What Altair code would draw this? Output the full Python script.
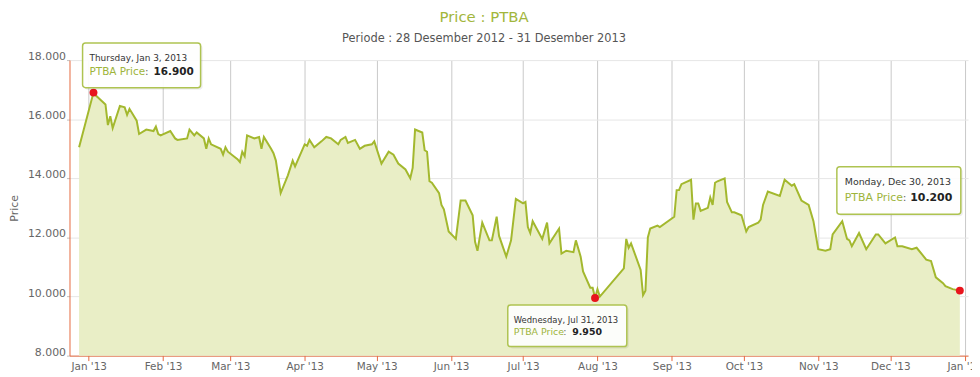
import altair as alt
import pandas as pd

# ---------------- data ----------------
dates = [
    "2012/12/28", "2013/01/03", "2013/01/04", "2013/01/08", "2013/01/09", "2013/01/10", "2013/01/11",
    "2013/01/14", "2013/01/16", "2013/01/17", "2013/01/18", "2013/01/21", "2013/01/22", "2013/01/25",
    "2013/01/28", "2013/01/29", "2013/01/30", "2013/01/31", "2013/02/04", "2013/02/06", "2013/02/07",
    "2013/02/11", "2013/02/12", "2013/02/14", "2013/02/15", "2013/02/18", "2013/02/19", "2013/02/20",
    "2013/02/21", "2013/02/25", "2013/02/26", "2013/02/27", "2013/02/28", "2013/03/04", "2013/03/05",
    "2013/03/06", "2013/03/07", "2013/03/08", "2013/03/11", "2013/03/13", "2013/03/14", "2013/03/15",
    "2013/03/18", "2013/03/19", "2013/03/20", "2013/03/22", "2013/03/25", "2013/03/27", "2013/03/28",
    "2013/04/01", "2013/04/02", "2013/04/03", "2013/04/05", "2013/04/08", "2013/04/10", "2013/04/12",
    "2013/04/15", "2013/04/16", "2013/04/18", "2013/04/19", "2013/04/22", "2013/04/24", "2013/04/26",
    "2013/04/29", "2013/04/30", "2013/05/03", "2013/05/06", "2013/05/08", "2013/05/10", "2013/05/13",
    "2013/05/15", "2013/05/16", "2013/05/17", "2013/05/20", "2013/05/21", "2013/05/22", "2013/05/23",
    "2013/05/24", "2013/05/27", "2013/05/28", "2013/05/29", "2013/05/31", "2013/06/03", "2013/06/05",
    "2013/06/07", "2013/06/10", "2013/06/11", "2013/06/12", "2013/06/14", "2013/06/17", "2013/06/18",
    "2013/06/20", "2013/06/21", "2013/06/24", "2013/06/26", "2013/06/28", "2013/07/01", "2013/07/02",
    "2013/07/03", "2013/07/04", "2013/07/05", "2013/07/09", "2013/07/11", "2013/07/12", "2013/07/16",
    "2013/07/17", "2013/07/19", "2013/07/22", "2013/07/23", "2013/07/25", "2013/07/26", "2013/07/29",
    "2013/07/30", "2013/07/31", "2013/08/01", "2013/08/02", "2013/08/12", "2013/08/13", "2013/08/14",
    "2013/08/15", "2013/08/19", "2013/08/20", "2013/08/21", "2013/08/22", "2013/08/23", "2013/08/26",
    "2013/08/27", "2013/09/02", "2013/09/03", "2013/09/04", "2013/09/05", "2013/09/09", "2013/09/10",
    "2013/09/11", "2013/09/12", "2013/09/13", "2013/09/16", "2013/09/17", "2013/09/18", "2013/09/19",
    "2013/09/20", "2013/09/23", "2013/09/24", "2013/09/26", "2013/09/27", "2013/09/30", "2013/10/02",
    "2013/10/03", "2013/10/07", "2013/10/08", "2013/10/09", "2013/10/11", "2013/10/16", "2013/10/18",
    "2013/10/21", "2013/10/22", "2013/10/25", "2013/10/28", "2013/10/30", "2013/11/01", "2013/11/04",
    "2013/11/06", "2013/11/07", "2013/11/11", "2013/11/13", "2013/11/14", "2013/11/15", "2013/11/18",
    "2013/11/21", "2013/11/25", "2013/11/26", "2013/11/29", "2013/12/03", "2013/12/04", "2013/12/06",
    "2013/12/10", "2013/12/12", "2013/12/16", "2013/12/18", "2013/12/20", "2013/12/23", "2013/12/24",
    "2013/12/27", "2013/12/30",
]
prices = [
    15050, 16900, 16800, 16500, 15800, 16100, 15700,
    16450, 16400, 16150, 16350, 15950, 15500, 15650,
    15600, 15750, 15500, 15450, 15600, 15350, 15300,
    15350, 15650, 15450, 15550, 15350, 15000, 15350,
    15150, 15000, 14800, 15050, 14900, 14650, 14550,
    14900, 14750, 15450, 15350, 15400, 15000, 15400,
    15000, 14850, 14600, 13500, 14100, 14600, 14400,
    15150, 15100, 15300, 15050, 15250, 15400, 15350,
    15150, 15300, 15400, 15200, 15300, 15000, 15100,
    15150, 15250, 14500, 14900, 14800, 14500, 14300,
    14000, 14350, 15650, 15550, 14950, 14900, 13900,
    13850, 13500, 13100, 12950, 12200, 11950, 13250,
    13250, 12750, 11850, 11550, 12500, 11900, 11900,
    12700, 12050, 11350, 11900, 13300, 13150, 13200,
    12350, 12150, 12550, 11950, 12500, 11800, 12300,
    11450, 11550, 11500, 11900, 11350, 10850, 10300,
    10300, 9950, 10250, 10000, 10950, 11950, 11650,
    11800, 10900, 10050, 10200, 12000, 12300, 12400,
    12350, 12700, 13600, 13600, 13800, 13950, 12600,
    13150, 13150, 12900, 13000, 13350, 13100, 13850,
    13900, 14000, 13200, 12850, 12850, 12750, 12200,
    12350, 12500, 12600, 13100, 13550, 13400, 13950,
    13750, 13800, 13250, 13100, 12550, 11600, 11550,
    11600, 12100, 12550, 11950, 11900, 11700, 12150,
    11600, 12100, 12100, 11800, 12000, 11700, 11700,
    11600, 11650, 11250, 11200, 10650, 10450, 10350,
    10250, 10200,
]

hl_dates = ["2013/01/03", "2013/07/31", "2013/12/30"]
hl_prices = [16900, 9950, 10200]
hl_days = ["Thursday, Jan 3, 2013", "Wednesday, Jul 31, 2013", "Monday, Dec 30, 2013"]
series_name = "PTBA Price"

y_ticks = [8000, 10000, 12000, 14000, 16000, 18000]
month_ticks = [alt.DateTime(year=2013, month=m, date=1) for m in range(1, 13)] + [
    alt.DateTime(year=2014, month=1, date=1)
]

title_text = "Price : PTBA"
subtitle_text = "Periode : 28 Desember 2012 - 31 Desember 2013"

# ---------------- styles ----------------
FONT = "DejaVu Sans"
LINE = "#a3b82e"
FILL = "#e9eec6"
ORANGE = "#e5683f"
GREEN_TXT = "#9db43a"
BORDER = "#aec351"
RED = "#e8141c"

df = pd.DataFrame({"date": dates, "price": prices})

x_enc = alt.X(
    "date:T",
    title=None,
    scale=alt.Scale(
        domain=[
            alt.DateTime(year=2012, month=12, date=24),
            alt.DateTime(year=2014, month=1, date=2, hours=10),
        ],
        nice=False,
    ),
    axis=alt.Axis(
        values=month_ticks,
        format="%b '%y",
        labelFont=FONT,
        labelFontSize=10.5,
        labelColor="#666666",
        labelPadding=1,
        labelFlush=False,
        labelOverlap=False,
        domainColor=ORANGE,
        tickColor=ORANGE,
        tickSize=5,
        grid=True,
        gridColor="#c8c8c8",
    ),
)
y_enc = alt.Y(
    "price:Q",
    scale=alt.Scale(domain=[8000, 18000], nice=False, zero=False),
    axis=alt.Axis(
        values=y_ticks,
        labelExpr="replace(format(datum.value, ','), ',', '.')",
        labelFont=FONT,
        labelFontSize=11,
        labelColor="#666666",
        labelPadding=1,
        labelOffset=-3.5,
        domainColor=ORANGE,
        tickColor="#c0c0c0",
        tickSize=3,
        grid=True,
        gridColor="#e6e6e6",
        title="Price",
        titleFont=FONT,
        titleFontSize=11,
        titleFontWeight="normal",
        titleColor="#666666",
        titleAngle=270,
        titleX=-55,
        titleY=149,
        titleAlign="center",
        titleBaseline="middle",
    ),
)

base = alt.Chart(df)
area = base.mark_area(color=FILL, opacity=1, interpolate="linear", clip=True).encode(x=x_enc, y=y_enc)
line = base.mark_line(color=LINE, strokeWidth=2, interpolate="linear").encode(x=x_enc, y=y_enc)

hl_df = pd.DataFrame({"date": hl_dates, "price": hl_prices})
dots = alt.Chart(hl_df).mark_point(filled=True, size=64, color=RED, opacity=1).encode(x=x_enc, y=y_enc)

# tooltip box geometry (pixel offsets from the highlighted point) and text sizes
tip_styles = [
    dict(bx=(-11, 108), by=(-50, -5), tx=-4, l1=-35, l2=-21, f1=9, f2=10.5, colon=52, val=60.5),
    dict(bx=(-88, 32), by=(7, 49), tx=-82, l1=22, l2=34.5, f1=8.5, f2=9.5, colon=-32, val=-23),
    dict(bx=(-124, 1), by=(-125, -77), tx=-116, l1=-109.5, l2=-93.5, f1=9.5, f2=11, colon=-57.5, val=-50),
]

layers = [area, line]
tips = []
for i, st in enumerate(tip_styles):
    tdf = pd.DataFrame(
        {
            "date": [hl_dates[i]],
            "price": [hl_prices[i]],
            "day": [hl_days[i]],
            "name": [series_name],
            "colon": [":"],
            "val": [f"{hl_prices[i]:,}".replace(",", ".")],
        }
    )
    tb = alt.Chart(tdf)
    shadow = tb.mark_rect(
        fill="#000000", opacity=0.07, cornerRadius=3,
        xOffset=st["bx"][0] + 2, x2Offset=st["bx"][1] + 2,
        yOffset=st["by"][0] + 2, y2Offset=st["by"][1] + 2,
    ).encode(x=x_enc, x2=alt.X2("date"), y=y_enc, y2=alt.Y2("price"))
    box = tb.mark_rect(
        fill="#ffffff", fillOpacity=0.92, stroke=BORDER, strokeWidth=1.5, cornerRadius=3,
        xOffset=st["bx"][0], x2Offset=st["bx"][1],
        yOffset=st["by"][0], y2Offset=st["by"][1],
    ).encode(x=x_enc, x2=alt.X2("date"), y=y_enc, y2=alt.Y2("price"))
    t1 = tb.mark_text(
        align="left", baseline="middle", dx=st["tx"], dy=st["l1"],
        font=FONT, fontSize=st["f1"], color="#333333",
    ).encode(x=x_enc, y=y_enc, text="day:N")
    t2 = tb.mark_text(
        align="left", baseline="middle", dx=st["tx"], dy=st["l2"],
        font=FONT, fontSize=st["f2"], color=GREEN_TXT,
    ).encode(x=x_enc, y=y_enc, text="name:N")
    t3 = tb.mark_text(
        align="left", baseline="middle", dx=st["colon"], dy=st["l2"],
        font=FONT, fontSize=st["f2"], color="#666666",
    ).encode(x=x_enc, y=y_enc, text="colon:N")
    t4 = tb.mark_text(
        align="left", baseline="middle", dx=st["val"], dy=st["l2"],
        font=FONT, fontSize=st["f2"], fontWeight="bold", color="#222222",
    ).encode(x=x_enc, y=y_enc, text="val:N")
    tips += [shadow, box, t1, t2, t3, t4]

layers += [dots] + tips

chart = (
    alt.layer(*layers)
    .properties(
        width=906,
        height=298,
        padding={"left": 62, "top": 51, "right": 4, "bottom": 18},
        autosize=alt.AutoSizeParams(type="none"),
        title=alt.TitleParams(
            text=title_text,
            subtitle=subtitle_text,
            anchor="middle",
            dx=-35,
            font=FONT,
            fontSize=15,
            fontWeight="normal",
            color="#a2b63c",
            subtitleFont=FONT,
            subtitleFontSize=11.5,
            subtitleColor="#555555",
            subtitlePadding=8,
            offset=-2,
        ),
    )
    .configure_view(stroke=None)
)

chart.save("out.html", embed_options={"renderer": "svg", "actions": False})
